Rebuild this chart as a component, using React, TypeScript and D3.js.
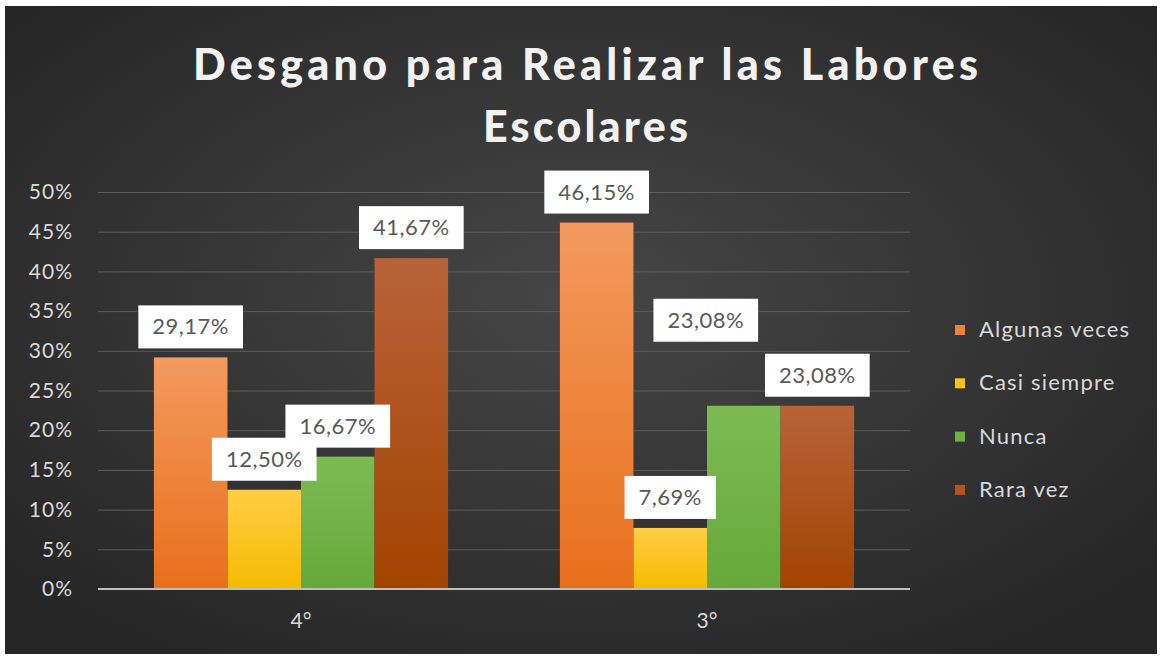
import React, { useEffect, useRef } from "react";
import * as d3 from "d3";

const categories = ["4°", "3°"];
const seriesNames = ["Algunas veces", "Casi siempre", "Nunca", "Rara vez"];
const algunasVeces = [29.17, 46.15];
const casiSiempre = [12.5, 7.69];
const nunca = [16.67, 23.08];
const raraVez = [41.67, 23.08];
const yTicks = [0, 5, 10, 15, 20, 25, 30, 35, 40, 45, 50];

const App = () => {
  const ref = useRef<SVGSVGElement | null>(null);

  useEffect(() => {
    const width = 1162;
    const height = 660;
    const margin = { top: 192, left: 98, bottom: 71, right: 252 };
    const font = "Lato, 'Open Sans', sans-serif";

    const svg = d3.select(ref.current);
    svg.selectAll("*").remove();

    const values = [algunasVeces, casiSiempre, nunca, raraVez];
    const colors = [
      ["#f39a5e", "#e86f1c"],
      ["#ffcd45", "#f5bb00"],
      ["#7cbb52", "#67a83a"],
      ["#b8623a", "#a24300"],
    ];
    const legendColors = ["#f0813a", "#ffc20e", "#6fb044", "#b55420"];

    const defs = svg.append("defs");
    const bg = defs
      .append("radialGradient")
      .attr("id", "bg")
      .attr("cx", "50%")
      .attr("cy", "45%")
      .attr("r", "65%");
    bg.append("stop").attr("offset", "0%").attr("stop-color", "#464646");
    bg.append("stop").attr("offset", "100%").attr("stop-color", "#262626");

    colors.forEach((c, i) => {
      const g = defs
        .append("linearGradient")
        .attr("id", `bar${i}`)
        .attr("x1", 0)
        .attr("y1", 0)
        .attr("x2", 0)
        .attr("y2", 1);
      g.append("stop").attr("offset", "0%").attr("stop-color", c[0]);
      g.append("stop").attr("offset", "100%").attr("stop-color", c[1]);
    });

    svg.append("rect").attr("width", width).attr("height", height).attr("fill", "#ffffff");
    svg
      .append("rect")
      .attr("x", 5)
      .attr("y", 6)
      .attr("width", width - 10)
      .attr("height", height - 12)
      .attr("fill", "url(#bg)");

    // titulo
    const title = svg
      .append("text")
      .attr("font-family", font)
      .attr("font-weight", 900)
      .attr("font-size", 43)
      .attr("fill", "#f2f2f2");
    title
      .append("tspan")
      .attr("x", 193)
      .attr("y", 80)
      .attr("textLength", 785)
      .attr("lengthAdjust", "spacing")
      .text("Desgano para Realizar las Labores");
    title
      .append("tspan")
      .attr("x", 483)
      .attr("y", 142)
      .attr("textLength", 205)
      .attr("lengthAdjust", "spacing")
      .text("Escolares");

    const x0 = d3
      .scaleBand()
      .domain(categories)
      .range([margin.left, width - margin.right]);

    const x1 = d3
      .scaleBand()
      .domain(seriesNames)
      .range([0, x0.bandwidth()])
      .paddingInner(0)
      .paddingOuter(0.76);

    const y = d3
      .scaleLinear()
      .domain([0, 50])
      .range([height - margin.bottom, margin.top]);

    // grilla y eje
    const yAxis = (g: any) =>
      g
        .attr("transform", `translate(${margin.left}, 0)`)
        .call(
          d3
            .axisLeft(y)
            .tickValues(yTicks)
            .tickSize(-(width - margin.left - margin.right))
            .tickPadding(25)
            .tickFormat((d: any) => `${d}%`)
        )
        .call((g: any) => g.select(".domain").remove())
        .call((g: any) =>
          g.selectAll(".tick line").attr("stroke", "#5c5c5c").attr("stroke-width", 1)
        )
        .call((g: any) =>
          g
            .selectAll(".tick text")
            .attr("fill", "#d9d9d9")
            .attr("font-size", 21)
            .attr("letter-spacing", 1)
            .attr("font-family", font)
        );
    svg.append("g").call(yAxis);

    // barras
    values.forEach((vals, si) => {
      svg
        .append("g")
        .selectAll("rect")
        .data(vals)
        .enter()
        .append("rect")
        .attr("x", (_d, i) => (x0(categories[i]) as number) + (x1(seriesNames[si]) as number))
        .attr("y", (d) => y(d))
        .attr("width", x1.bandwidth())
        .attr("height", (d) => y(0) - y(d))
        .attr("fill", `url(#bar${si})`);
    });

    svg
      .append("line")
      .attr("x1", margin.left)
      .attr("x2", width - margin.right)
      .attr("y1", y(0))
      .attr("y2", y(0))
      .attr("stroke", "#bfbfbf")
      .attr("stroke-width", 2);

    const xAxis = (g: any) =>
      g
        .attr("transform", `translate(0, ${y(0)})`)
        .call(d3.axisBottom(x0).tickSize(0).tickPadding(24))
        .call((g: any) => g.select(".domain").remove())
        .call((g: any) =>
          g
            .selectAll(".tick text")
            .attr("fill", "#d9d9d9")
            .attr("font-size", 21)
            .attr("font-family", font)
        );
    svg.append("g").call(xAxis);

    // etiquetas (Excel movio la de Nunca en 3°)
    const nudge: Record<string, [number, number]> = { "2-1": [-38, -55] };
    const fmt = (v: number) => v.toFixed(2).replace(".", ",") + "%";
    [3, 2, 1, 0].forEach((si) => {
      values[si].forEach((v, i) => {
        const [dx, dy] = nudge[`${si}-${i}`] || [0, 0];
        const cx =
          (x0(categories[i]) as number) + (x1(seriesNames[si]) as number) + x1.bandwidth() / 2 + dx;
        const bottom = y(v) - 9 + dy;
        const g = svg.append("g");
        const r = g.append("rect").attr("fill", "#ffffff");
        const t = g
          .append("text")
          .attr("x", cx)
          .attr("y", bottom - 14)
          .attr("text-anchor", "middle")
          .attr("font-family", font)
          .attr("font-size", 22)
          .attr("letter-spacing", 0.5)
          .attr("fill", "#595959")
          .text(fmt(v));
        const w = (t.node() as SVGTextElement).getComputedTextLength() + 28;
        r.attr("x", cx - w / 2).attr("y", bottom - 43).attr("width", w).attr("height", 43);
      });
    });

    // leyenda
    const legend = svg
      .append("g")
      .selectAll("g")
      .data(seriesNames)
      .enter()
      .append("g")
      .attr("transform", (_d, i) => `translate(955, ${330 + i * 53.3})`);
    legend
      .append("rect")
      .attr("x", 0)
      .attr("y", -5)
      .attr("width", 10)
      .attr("height", 10)
      .attr("fill", (_d, i) => legendColors[i]);
    legend
      .append("text")
      .attr("x", 24)
      .attr("y", 7)
      .attr("font-family", font)
      .attr("font-size", 22)
      .attr("letter-spacing", 1.2)
      .attr("fill", "#d9d9d9")
      .text((d) => d);
  }, []);

  return (
    <svg
      ref={ref}
      width={1162}
      height={660}
      style={{ position: "absolute", left: 0, top: 0 }}
    />
  );
};

export default App;
